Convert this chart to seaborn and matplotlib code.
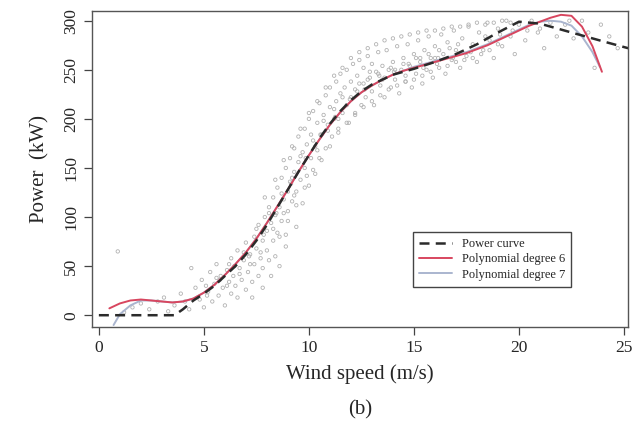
import matplotlib
matplotlib.use("Agg")
import matplotlib.pyplot as plt
import seaborn as sns
import pandas as pd

obs_ws = [0.9, 1.2, 1.6, 2.0, 2.4, 2.8, 3.1, 3.3, 3.6, 3.9, 4.1, 4.3, 4.4, 4.6, 4.8, 4.9, 5.0, 5.2, 5.3, 5.4,
          5.5, 5.6, 5.7, 5.8, 5.9, 6.0, 6.1, 6.2, 6.3, 6.3, 6.4, 6.5, 6.6, 6.6, 6.7, 6.8, 6.9, 7.0, 7.0, 7.1,
          7.2, 7.3, 7.3, 7.4, 7.4, 7.5, 7.6, 7.6, 7.7, 7.8, 7.8, 7.8, 7.9, 8.0, 8.0, 8.1, 8.1, 8.2, 8.2, 8.3,
          8.3, 8.4, 8.4, 8.5, 8.5, 8.6, 8.6, 8.7, 8.7, 8.8, 8.9, 8.9, 8.9, 9.0, 9.0, 9.1, 9.1, 9.2, 9.3, 9.3,
          9.4, 9.4, 9.5, 9.5, 9.6, 9.7, 9.7, 9.8, 9.8, 9.9, 10.0, 10.0, 10.1, 10.1, 10.2, 10.3, 10.3, 10.4, 10.5, 10.5,
          10.6, 10.7, 10.8, 10.8, 10.9, 11.0, 11.0, 11.1, 11.2, 11.3, 11.3, 11.4, 11.5, 11.5, 11.6, 11.7, 11.8, 11.8, 11.9, 12.0,
          12.0, 12.1, 12.2, 12.3, 12.3, 12.4, 12.5, 12.6, 12.6, 12.7, 12.8, 12.9, 13.0, 13.0, 13.1, 13.2, 13.3, 13.4, 13.5, 13.6,
          13.6, 13.7, 13.8, 13.9, 14.0, 14.1, 14.2, 14.3, 14.4, 14.5, 14.6, 14.7, 14.8, 14.9, 15.0, 15.1, 15.2, 15.3, 15.4, 15.5,
          15.6, 15.7, 15.8, 15.9, 16.0, 16.1, 16.3, 16.4, 16.5, 16.6, 16.8, 16.9, 17.0, 17.2, 17.3, 17.5, 17.6, 17.8, 18.0, 18.1,
          18.3, 18.5, 18.6, 18.8, 19.0, 19.2, 19.4, 19.6, 19.8, 20.0, 20.3, 20.6, 20.9, 21.2, 21.5, 21.8, 22.2, 22.6, 23.0, 23.3,
          23.6, 23.9, 24.3, 24.7,
          6.2, 6.9, 7.5, 8.1, 8.7, 9.2, 9.6, 10.2, 10.7, 11.2, 11.6, 12.2, 12.8, 13.3, 13.9, 14.5, 15.1, 15.7, 16.2, 16.7,
          5.1, 5.6, 6.1, 6.7, 7.2, 7.7, 8.3, 8.8, 9.3, 9.9, 10.4, 10.9, 11.4, 12.4, 12.9, 13.5, 14.1, 14.6, 15.3, 16.0,
          17.1, 17.7, 18.4, 19.1, 19.7, 20.4, 21.0, 22.4,
          7.9, 8.4, 8.8, 9.2, 9.6, 10.0, 10.4, 10.8, 11.2, 11.6, 12.0, 12.4, 12.8, 13.2, 13.6, 14.0, 14.4, 14.8, 15.2, 15.6,
          16.0, 16.4, 16.8, 17.2, 17.6, 18.0, 18.4, 18.8, 19.2, 19.6,
          8.6, 9.0, 9.4, 9.8, 10.2, 10.6, 11.0, 11.4, 11.8, 12.2, 12.6, 13.0, 13.4, 13.8, 14.2, 14.6, 15.0, 15.4, 15.8, 16.2,
          16.6, 17.0, 17.4, 17.8, 18.2, 18.6, 19.0,
          8.45, 9.15, 9.85, 10.55, 11.25, 11.95, 12.65, 13.35, 14.05, 14.75, 15.45, 16.15, 16.85, 6.45, 7.15, 7.85, 5.75, 5.15]
obs_kw = [65, 3, 8, 12, 6, 14, 18, 4, 10, 22, 14, 6, 48, 28, 16, 36, 8, 24, 44, 14,
          32, 52, 20, 40, 28, 10, 46, 34, 22, 58, 40, 30, 66, 18, 48, 36, 56, 26, 74, 44,
          62, 34, 18, 80, 52, 68, 40, 92, 58, 76, 48, 28, 100, 66, 86, 110, 56, 94, 40, 76,
          120, 102, 60, 84, 130, 110, 50, 96, 140, 118, 82, 150, 70, 126, 106, 160, 136, 116, 146, 170,
          126, 90, 156, 182, 138, 166, 114, 190, 150, 174, 132, 200, 160, 184, 208, 144, 172, 196, 216, 160,
          184, 204, 224, 170, 194, 212, 232, 182, 200, 238, 218, 190, 226, 246, 206, 232, 214, 250, 196, 238,
          222, 256, 206, 244, 228, 260, 214, 236, 252, 222, 264, 242, 228, 256, 214, 248, 268, 234, 254, 222,
          242, 270, 250, 232, 258, 240, 274, 226, 250, 262, 238, 276, 254, 232, 266, 246, 280, 258, 236, 270,
          250, 284, 262, 242, 274, 256, 286, 266, 246, 278, 260, 290, 270, 252, 282, 264, 294, 276, 258, 288,
          270, 298, 280, 262, 292, 274, 300, 284, 266, 296, 280, 300, 288, 272, 298, 284, 296, 282, 300, 288,
          252, 296, 284, 272,
          52, 64, 88, 104, 124, 140, 162, 178, 198, 210, 222, 230, 240, 246, 252, 256, 262, 266, 270, 272,
          30, 38, 30, 42, 52, 64, 88, 104, 122, 142, 168, 188, 200, 236, 248, 240, 250, 244, 262, 262,
          276, 268, 284, 286, 290, 290, 292, 300,
          120, 138, 158, 172, 190, 206, 218, 232, 244, 252, 262, 268, 272, 276, 280, 282, 284, 286, 288, 290,
          290, 292, 294, 294, 296, 298, 296, 298, 300, 298,
          80, 96, 112, 130, 148, 158, 172, 186, 196, 204, 212, 218, 224, 230, 234, 238, 240, 244, 248, 252,
          254, 258, 260, 262, 266, 270, 276,
          104, 134, 160, 184, 202, 220, 230, 244, 248, 256, 252, 262, 262, 50, 60, 82, 36, 20]

# ---- fitted curves ----
pc_ws = [0, 1, 2, 3, 3.6, 4.0, 4.5, 5, 5.5, 6, 6.5, 7, 7.5, 8, 8.5, 9, 9.5, 10, 10.5, 11, 11.5, 12, 12.5,
         13, 13.5, 14, 15, 16, 17, 18, 19, 20, 21, 22, 23, 24, 25.2]
pc_kw = [0, 0, 0, 0, 0, 6, 15, 22, 30, 40, 50, 62, 76, 92, 110, 128, 146, 163, 180, 195, 208, 219, 228,
         235, 240, 245, 251, 258, 266, 276, 288, 299, 297, 291, 285, 279, 272]

p6_ws = [0.5, 1, 1.5, 2, 2.5, 3, 3.5, 4, 4.5, 5, 5.5, 6, 6.5, 7, 7.5, 8, 8.5, 9, 9.5, 10, 10.5, 11, 11.5,
         12, 12.5, 13, 13.5, 14, 14.5, 15, 15.5, 16, 16.5, 17, 17.5, 18, 18.5, 19, 19.5, 20, 20.5, 21, 21.5,
         22, 22.5, 23, 23.5, 23.95]
p6_kw = [7, 12, 15, 16, 15, 14, 13, 14, 17, 23, 31, 41, 52, 64, 78, 94, 111, 128, 146, 163, 179, 194, 207,
         218, 227, 234, 240, 245, 249, 252, 255, 258, 261, 264, 267, 271, 275, 280, 285, 290, 295, 299, 303,
         306, 305, 294, 274, 248]

p7_ws = [0.7, 1, 1.5, 2, 2.5, 3, 3.5, 4, 4.5, 5, 5.5, 6, 6.5, 7, 7.5, 8, 8.5, 9, 9.5, 10, 10.5, 11, 11.5,
         12, 12.5, 13, 13.5, 14, 14.5, 15, 15.5, 16, 16.5, 17, 17.5, 18, 18.5, 19, 19.5, 20, 20.5, 21, 21.5,
         22, 22.5, 23, 23.5, 23.85]
p7_kw = [-10, 1, 10, 15, 15, 14, 13, 14, 17, 23, 31, 41, 52, 64, 78, 94, 111, 128, 146, 163, 179, 194, 207,
         218, 227, 234, 240, 245, 249, 253, 256, 259, 262, 265, 268, 272, 276, 281, 286, 291, 296, 299, 300,
         299, 295, 284, 268, 253]

xticks = [0, 5, 10, 15, 20, 25]
yticks = [0, 50, 100, 150, 200, 250, 300]

sns.set_theme(style="white")
plt.rcParams["font.family"] = ["Liberation Serif", "DejaVu Serif"]

fig = plt.figure(figsize=(6.34, 4.36), dpi=100)
ax = fig.add_axes([0.145, 0.25, 0.8455, 0.725])

obs = pd.DataFrame({"ws": obs_ws, "kw": obs_kw})
sns.scatterplot(data=obs, x="ws", y="kw", ax=ax, marker="o", s=6,
                facecolors="none", edgecolor="#b2b2b2", linewidth=0.6, legend=False)

sns.lineplot(x=p7_ws, y=p7_kw, ax=ax, color="#aab5cf", linewidth=1.4,
             label="Polynomial degree 7", sort=False)
sns.lineplot(x=p6_ws, y=p6_kw, ax=ax, color="#d8465f", linewidth=1.4,
             label="Polynomial degree 6", sort=False)
sns.lineplot(x=pc_ws, y=pc_kw, ax=ax, color="#2b2b2b", linewidth=1.8,
             linestyle=(0, (4, 2.5)), label="Power curve", sort=False)

ax.set_xlim(-0.33, 25.19)
ax.set_ylim(-12, 310)
ax.set_xticks(xticks)
ax.set_yticks(yticks)
ax.set_xlabel("Wind speed (m/s)", fontsize=15, labelpad=6)
ax.set_ylabel("Power  (kW)", fontsize=15, labelpad=10)
ax.tick_params(axis="both", direction="out", length=6, width=0.9, color="#444444",
               labelsize=12.5, pad=3, bottom=True, left=True)
for lab in ax.get_yticklabels():
    lab.set_rotation(90)
    lab.set_va("center")
for sp in ax.spines.values():
    sp.set_color("#555555")
    sp.set_linewidth(1.0)

h, l = ax.get_legend_handles_labels()
order = [2, 1, 0]
leg = ax.legend([h[i] for i in order], [l[i] for i in order], loc="lower left",
                bbox_to_anchor=(0.599, 0.127), borderaxespad=0, fontsize=9,
                frameon=True, fancybox=False, edgecolor="#444444", framealpha=1,
                handlelength=2.6, borderpad=0.5, labelspacing=0.25)
leg.get_frame().set_linewidth(1.0)

fig.text(0.5 * (0.145 + 0.9905), 0.06, "(b)", ha="center", va="center", fontsize=15)

fig.savefig("out.png", dpi=100)
